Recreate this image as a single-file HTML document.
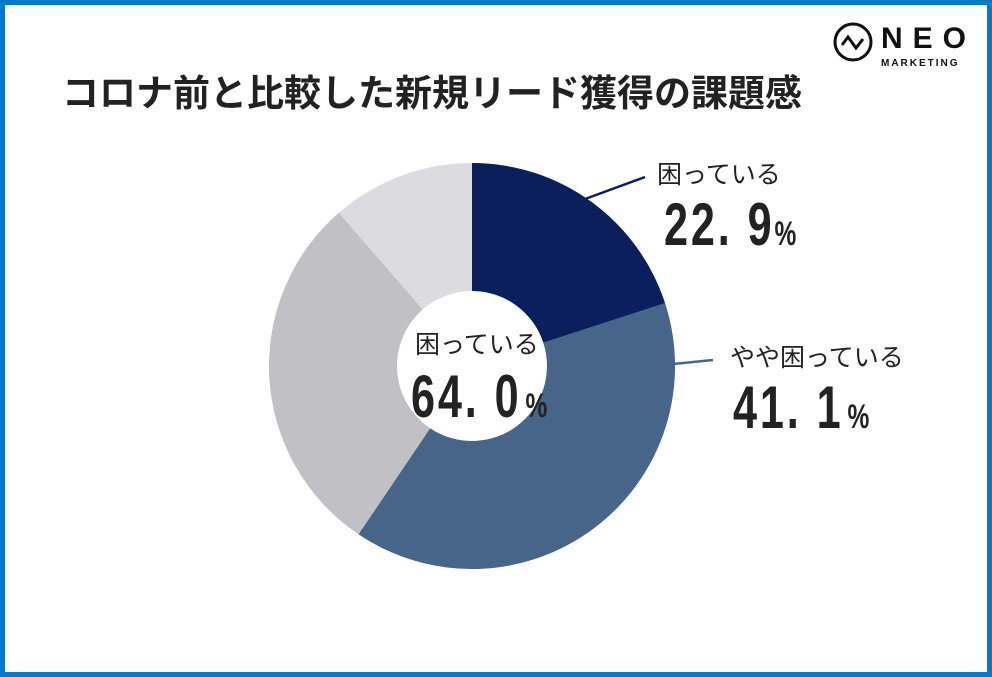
<!DOCTYPE html>
<html><head><meta charset="utf-8"><style>
html,body{margin:0;padding:0;background:#fff}
#f{position:relative;width:992px;height:677px;box-sizing:border-box;border:5px solid #0a78c8;overflow:hidden;font-family:"Liberation Sans","Noto Sans CJK JP",sans-serif;color:#222}
.t{position:absolute;white-space:nowrap}
.num{font-family:"Liberation Sans Narrow","Liberation Sans",sans-serif;font-weight:bold;transform-origin:left top;letter-spacing:4px}
.p{font-size:34px;letter-spacing:0}
.s{font-size:20px;letter-spacing:0}
</style></head><body><div id="f">
<div class="t" style="left:57px;top:58px;font-size:37px;font-weight:bold;color:#222">コロナ前と比較した新規リード獲得の課題感</div>
<svg style="position:absolute;left:0;top:0" width="982" height="667" viewBox="5 5 982 667">
<circle cx="853" cy="42" r="18" fill="none" stroke="#111" stroke-width="3"/>
<polyline points="842,45 848,37 856,48 863,39" fill="none" stroke="#111" stroke-width="3"/>
<path d="M472,163 A203,203 0 0 1 665.1,303.3 L543.3,342.8 A75,75 0 0 0 472,291 Z" fill="#0b1f5c"/>
<path d="M665.1,303.3 A203,203 0 0 1 358.5,534.3 L430.1,428.2 A75,75 0 0 0 543.3,342.8 Z" fill="#476489"/>
<path d="M358.5,534.3 A203,203 0 0 1 338.8,212.8 L422.8,309.4 A75,75 0 0 0 430.1,428.2 Z" fill="#c1c0c5"/>
<path d="M338.8,212.8 A203,203 0 0 1 472,163 L472,291 A75,75 0 0 0 422.8,309.4 Z" fill="#dcdce0"/>
<line x1="585" y1="199" x2="645" y2="177" stroke="#0b1f5c" stroke-width="2.5"/>
<line x1="673" y1="364" x2="713" y2="360" stroke="#476489" stroke-width="2.5"/>
</svg>
<div class="t" style="left:876px;top:17px;font-size:30px;font-weight:bold;letter-spacing:10px;color:#111">NEO</div>
<div class="t" style="left:876px;top:53px;font-size:10px;font-weight:bold;letter-spacing:2px;color:#111">MARKETING</div>
<div class="t" style="left:652px;top:150px;font-size:25px">困っている</div>
<div class="t num" style="left:659px;top:185px;font-size:60px;transform:scaleX(0.72)">22. 9<span class="p">%</span></div>
<div class="t" style="left:725px;top:333px;font-size:25px">やや困っている</div>
<div class="t num" style="left:728px;top:368px;font-size:60px;transform:scaleX(0.72)">41. 1<span class="s"> </span><span class="p">%</span></div>
<div class="t" style="left:410px;top:320px;font-size:25px">困っている</div>
<div class="t num" style="left:406px;top:357px;font-size:60px;transform:scaleX(0.72)">64. 0<span class="s"> </span><span class="p">%</span></div>
</div></body></html>
